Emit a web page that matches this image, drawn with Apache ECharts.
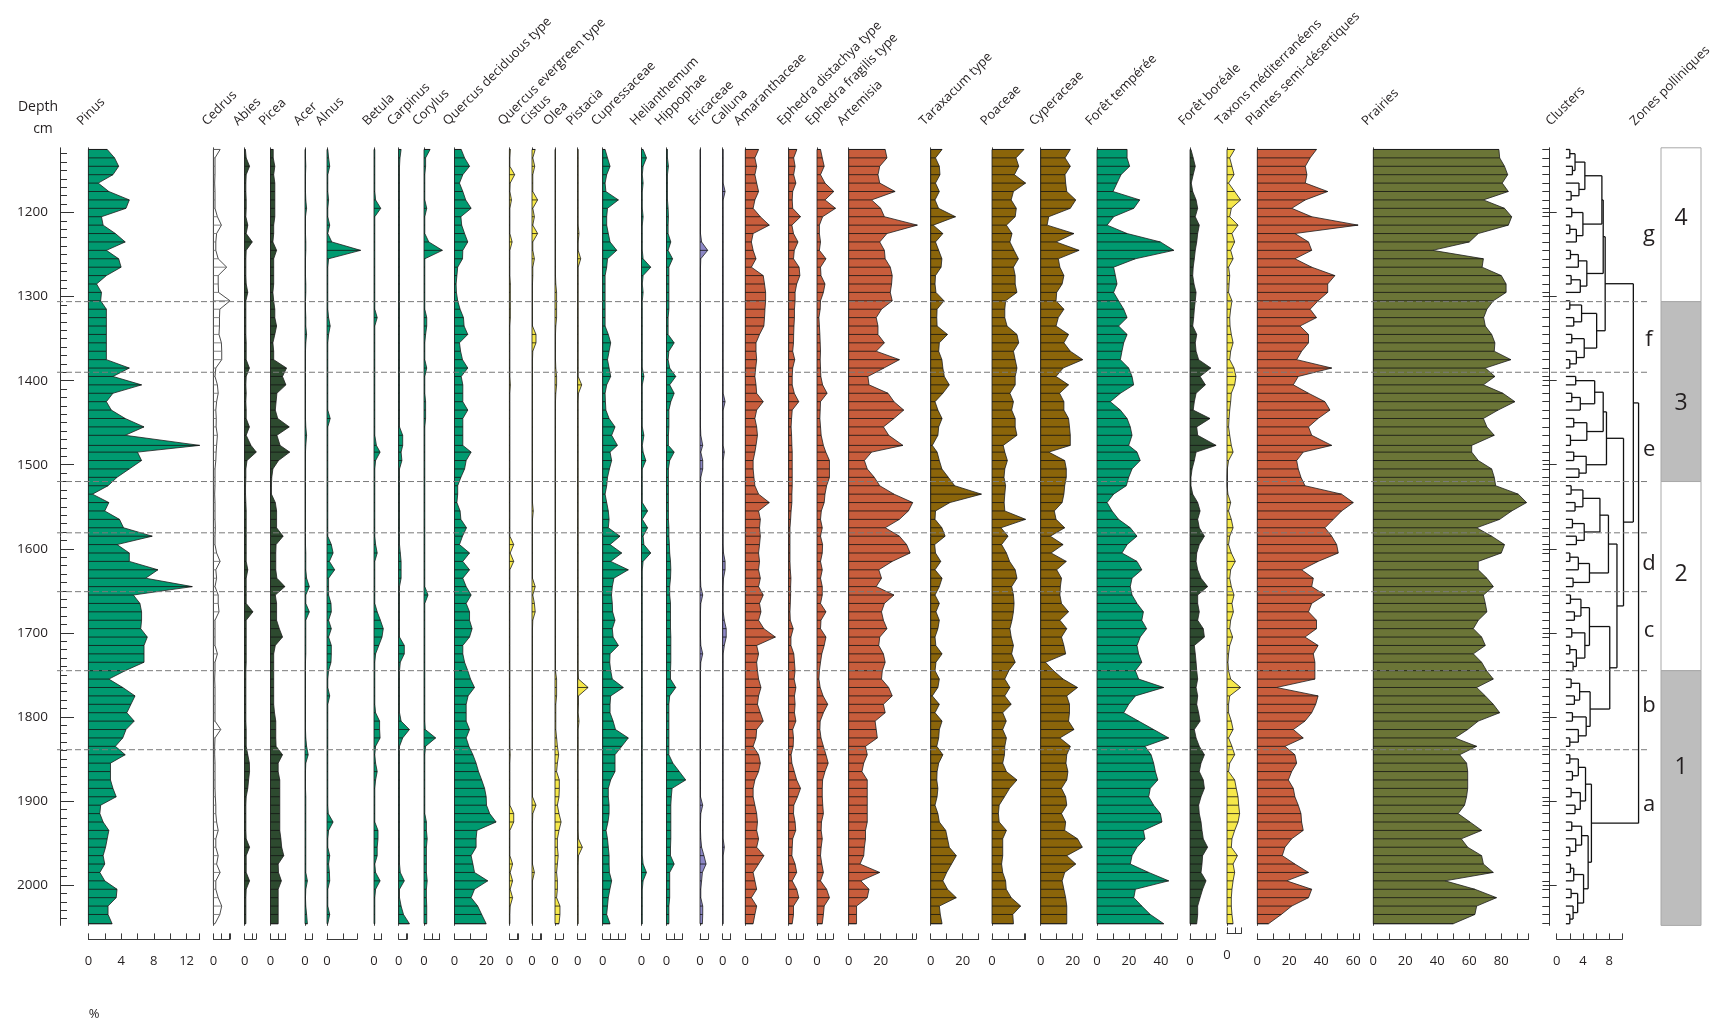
<!DOCTYPE html>
<html>
<head>
<meta charset="utf-8">
<title>Diagramme pollinique</title>
<script src="https://cdn.jsdelivr.net/npm/echarts@6/dist/echarts.min.js"></script>
<style>
  html, body { margin: 0; padding: 0; background: #fff; }
  #chart { width: 1726px; height: 1025px; }
</style>
</head>
<body>
<div id="chart"></div>
<script>
// sample depths (cm)
var depths = [1125,1135,1145,1155,1165,1175,1185,1195,1205,1215,
  1225,1235,1245,1255,1265,1275,1285,1295,1305,1315,
  1325,1335,1345,1355,1365,1375,1385,1395,1405,1415,
  1425,1435,1445,1455,1465,1477,1485,1495,1505,1515,
  1525,1535,1545,1555,1565,1575,1585,1595,1605,1615,
  1625,1635,1645,1655,1665,1675,1685,1695,1705,1715,
  1725,1735,1745,1755,1765,1775,1785,1795,1805,1815,
  1825,1835,1845,1855,1865,1875,1885,1895,1905,1915,
  1925,1935,1945,1955,1965,1975,1985,1995,2005,2015,
  2025,2035,2046];

var depthLabels = [1200,1300,1400,1500,1600,1700,1800,1900,2000];
var zoneBounds = [1306,1390,1520,1581,1651,1745,1839];

// percentages
var pinus = [2.3,3.2,3.7,3.0,1.2,2.5,5.0,4.6,1.6,1.8,
  3.3,4.5,2.2,3.7,4.0,2.2,1.0,1.6,1.5,2.2,
  2.2,2.2,2.2,2.2,2.2,2.2,5.0,3.0,6.5,3.0,
  2.2,2.8,4.5,6.8,4.5,13.6,6.0,6.5,5.0,3.5,
  2.4,0.5,2.5,2.0,3.8,4.3,7.8,3.5,5.0,5.0,
  8.5,7.0,12.7,5.5,6.3,6.5,6.5,6.4,7.2,6.8,
  6.8,6.8,4.5,2.5,4.2,5.7,5.2,4.7,5.6,4.6,
  4.2,3.3,4.5,2.7,2.7,2.7,3.0,3.4,1.5,1.4,
  1.8,2.5,2.3,2.1,1.8,2.0,1.4,2.0,3.5,3.4,
  2.4,2.4,2.9];
var cedrus = [4.2,1.0,1.0,1.0,0.8,1.0,1.0,1.0,2.5,5.0,
  2.0,1.5,1.5,3.0,8.3,3.0,3.0,3.2,10.4,4.0,
  3.8,3.8,3.5,5.0,5.2,5.2,1.5,1.0,2.5,3.0,
  2.0,1.5,1.8,1.7,2.5,2.0,1.7,1.5,1.0,1.0,
  1.0,0.8,1.0,1.0,1.0,1.2,1.0,1.0,2.0,4.2,
  1.5,2.0,1.0,3.0,3.0,3.5,1.0,1.0,1.0,1.0,
  2.5,1.0,1.0,0.8,1.0,1.0,1.0,1.0,1.0,4.6,
  1.0,0.8,0.8,1.0,1.0,1.0,1.0,1.2,1.5,1.5,
  2.0,3.0,1.5,1.5,3.0,2.0,4.2,1.5,1.5,3.0,
  5.2,4.0,1.0];
var abies = [0.5,1.0,3.1,1.0,0.8,0.8,1.0,1.0,0.8,2.0,
  1.0,4.8,1.0,0.8,0.8,0.8,1.0,2.0,0.8,0.8,
  0.8,0.8,0.8,1.0,1.0,1.0,3.0,1.0,0.8,1.0,
  0.8,1.0,1.0,3.0,1.0,4.0,7.3,1.5,0.8,0.8,
  0.6,0.6,0.8,1.0,1.0,1.0,1.0,1.0,1.0,1.0,
  2.0,1.0,1.0,1.0,1.0,5.2,1.0,1.0,1.0,1.0,
  1.0,1.0,0.8,0.8,0.8,0.8,0.8,0.8,0.8,1.0,
  1.0,1.0,2.0,3.0,3.1,2.5,2.0,1.0,0.8,0.8,
  0.8,0.8,1.0,3.1,1.0,1.0,1.0,3.1,1.0,0.8,
  0.8,0.8,0.8];
var picea = [1.7,1.7,2.7,2.0,2.7,2.7,2.7,2.7,2.7,2.0,
  2.0,1.5,3.8,2.0,2.0,2.0,2.0,1.5,2.0,2.7,
  2.7,3.8,2.7,1.5,2.0,2.0,10.0,7.5,9.6,4.0,
  3.5,3.0,4.5,11.7,4.0,6.0,12.0,5.0,1.5,0.8,
  0.6,0.6,3.0,3.8,3.8,3.8,7.9,3.5,3.3,3.3,
  3.3,4.0,9.0,3.0,3.8,3.8,3.8,5.5,7.5,3.0,
  2.0,2.0,2.0,2.0,2.0,2.0,2.0,2.5,3.3,3.3,
  3.3,3.5,7.5,4.8,4.8,5.8,5.8,5.8,5.8,5.8,
  5.8,5.8,6.5,7.0,8.3,4.8,5.0,6.8,4.8,4.8,
  4.8,4.8,4.8];
var acer = [0.3,0.3,0.5,0.3,0.3,0.3,0.5,1.0,0.3,0.3,
  0.3,0.5,0.5,0.3,0.3,0.3,0.5,0.5,0.3,0.3,
  0.5,0.5,1.0,0.5,0.3,0.3,0.3,0.3,0.3,0.3,
  0.3,0.3,0.3,0.5,1.0,0.5,0.3,0.3,0.3,0.3,
  0.3,0.3,0.3,0.3,0.3,0.3,0.3,0.3,0.5,0.5,
  0.5,1.0,2.7,0.5,0.5,2.7,0.5,0.5,0.5,0.5,
  0.5,0.3,0.3,0.3,0.3,0.3,0.3,0.3,0.3,0.3,
  0.5,1.0,2.0,0.5,0.3,0.3,0.3,0.5,0.5,0.5,
  0.5,0.5,0.5,0.5,0.5,0.5,0.5,1.5,0.5,0.3,
  0.5,1.0,1.5];
var alnus = [0.5,1.0,1.7,0.5,0.5,0.5,1.0,0.5,0.5,1.7,
  0.5,3.0,21.0,1.0,0.5,0.5,0.5,0.5,0.5,0.5,
  1.0,2.0,1.0,0.5,0.5,0.5,0.5,0.5,0.5,0.5,
  0.5,0.5,2.0,0.5,0.5,0.5,0.5,0.5,0.5,0.5,
  0.5,0.5,0.5,0.5,0.5,0.5,0.5,2.7,3.8,1.5,
  4.8,1.0,1.0,1.0,2.5,2.7,1.0,2.7,1.0,2.7,
  2.7,2.5,1.0,0.5,0.5,1.7,0.5,0.5,0.5,0.5,
  0.5,0.5,0.5,0.5,0.5,0.5,0.5,0.5,0.5,0.8,
  3.8,1.0,0.5,0.5,1.7,1.0,1.5,1.7,0.5,0.5,
  0.5,1.7,0.5];
var betula = [0.5,0.5,0.5,0.5,0.5,0.5,1.0,4.2,0.5,0.5,
  0.5,0.5,0.5,0.5,0.5,0.5,0.5,0.5,0.5,0.5,
  2.0,0.5,0.5,0.5,0.5,0.5,0.5,0.5,0.5,0.5,
  0.5,0.5,0.5,0.5,0.5,1.5,3.8,1.0,0.5,0.5,
  0.5,0.5,0.5,0.5,0.5,0.5,0.5,1.0,2.0,0.5,
  0.5,0.5,0.5,0.5,0.5,2.0,4.0,5.8,5.0,3.0,
  1.0,0.5,0.5,0.5,0.5,0.5,0.5,1.0,3.5,3.5,
  3.8,1.0,0.5,1.0,2.0,1.0,0.5,0.5,0.5,0.5,
  0.5,2.5,2.5,2.0,2.0,0.5,1.0,3.8,1.0,0.5,
  0.5,0.5,0.5];
var carpinus = [1.5,0.8,0.5,0.5,0.5,0.5,0.5,0.5,0.5,0.5,
  0.5,0.5,0.5,0.5,0.5,0.5,0.5,0.5,0.5,0.5,
  0.5,0.5,0.5,0.5,0.5,0.5,0.5,0.5,0.5,0.5,
  0.5,0.5,0.5,0.5,2.5,2.5,1.5,2.0,0.5,0.5,
  0.5,0.5,0.5,0.5,0.5,0.5,0.5,0.5,1.0,1.5,
  1.5,1.5,0.5,0.5,0.5,0.5,0.5,0.5,0.5,3.5,
  3.5,1.0,0.5,0.5,0.5,0.5,0.5,0.5,1.5,6.7,
  2.5,0.5,0.5,0.5,0.5,0.5,0.5,0.5,0.5,0.5,
  0.5,0.5,0.5,0.5,0.5,0.5,1.0,3.5,0.5,0.5,
  1.5,3.0,6.7];
var corylus = [3.8,1.0,1.0,0.5,0.5,0.5,0.5,1.7,0.5,0.5,
  0.5,3.0,11.5,0.5,0.5,0.5,0.5,0.5,0.5,0.5,
  1.7,1.7,1.0,0.5,0.5,0.5,1.7,0.5,0.5,0.5,
  1.0,1.0,1.0,0.5,0.5,0.5,0.5,0.5,0.5,0.5,
  0.5,0.5,0.5,0.5,0.5,0.5,0.5,0.5,0.5,0.5,
  0.5,0.5,0.5,2.5,0.5,0.5,0.5,0.5,0.5,0.5,
  0.5,0.5,0.5,0.5,0.5,0.5,0.5,0.5,0.5,0.8,
  7.3,1.0,0.5,0.5,0.5,0.5,0.5,0.5,0.5,0.5,
  1.5,1.5,2.0,1.5,1.5,1.5,1.5,2.0,1.5,1.5,
  1.7,1.7,1.7];
var quercusDec = [4.2,6.3,9.4,5.2,3.1,5.2,7.0,10.4,4.0,4.5,
  6.3,8.3,5.2,5.0,2.0,1.5,1.0,1.2,2.0,3.5,
  5.6,6.0,8.3,3.1,3.8,5.0,8.3,4.2,5.2,5.2,
  5.2,8.3,5.2,5.2,5.2,5.2,10.4,7.3,6.3,4.0,
  2.0,2.0,1.5,3.5,4.0,7.5,5.0,3.1,9.4,5.2,
  9.4,5.2,7.3,10.4,7.3,9.4,9.4,11.0,9.4,5.2,
  5.2,6.3,8.3,10.0,12.5,8.5,7.3,7.3,7.3,9.4,
  7.3,9.0,11.5,13.5,15.0,17.0,18.8,19.8,20.0,22.0,
  26.0,14.0,13.5,13.5,10.4,11.5,12.5,20.8,12.5,10.4,
  14.5,17.0,19.8];
var quercusEver = [0.6,0.3,0.3,3.3,0.5,0.3,1.3,0.3,0.3,0.3,
  0.3,1.7,0.3,0.3,0.3,0.3,0.6,0.6,0.6,0.6,
  0.6,0.3,0.3,0.3,0.3,0.3,0.3,0.3,0.6,0.3,
  0.3,0.3,0.3,0.3,0.3,0.3,0.3,0.3,0.3,0.3,
  0.3,0.3,0.3,0.3,0.3,0.3,0.3,2.7,0.5,2.7,
  0.3,0.3,0.3,0.3,0.3,0.3,0.3,0.3,0.3,0.3,
  0.3,0.3,0.3,0.3,0.3,0.3,0.3,0.3,0.3,0.3,
  0.3,0.3,0.5,0.3,0.3,0.3,0.3,0.3,0.3,2.7,
  2.7,0.3,0.3,0.3,0.3,2.0,0.5,2.0,0.5,2.0,
  0.5,0.3,0.3];
var cistus = [2.0,0.5,1.7,0.5,0.5,0.5,3.5,0.5,1.5,0.5,
  3.5,0.5,0.5,1.5,0.5,0.5,0.3,0.3,0.3,0.3,
  0.3,0.3,2.5,2.5,0.5,0.3,0.3,0.3,0.3,0.3,
  0.3,0.3,0.3,0.3,0.3,0.3,0.3,0.3,0.3,0.3,
  0.3,0.3,0.3,0.8,0.3,0.3,0.3,0.3,0.3,0.3,
  0.3,0.3,2.0,0.5,1.5,2.0,0.5,0.3,0.3,0.3,
  0.3,0.3,0.3,0.3,0.3,0.3,0.3,0.3,0.3,0.3,
  0.3,0.3,0.3,0.3,0.3,0.3,0.3,0.3,2.5,0.5,
  0.3,0.3,0.3,0.3,0.3,0.3,1.5,0.3,0.3,0.3,
  0.3,0.3,0.3];
var olea = [0.3,0.3,0.3,0.3,0.3,0.3,0.3,0.3,0.3,0.3,
  0.3,0.3,0.3,0.3,0.3,0.3,0.5,1.0,1.0,1.0,
  1.0,0.5,0.3,0.3,0.3,0.3,0.5,1.0,1.0,0.5,
  0.3,0.3,0.3,0.3,0.3,0.3,0.3,0.3,0.3,0.3,
  0.3,0.3,0.3,0.3,0.3,0.3,0.3,0.3,0.3,0.3,
  0.3,0.3,0.3,0.3,0.3,0.3,0.3,0.3,0.3,0.3,
  0.3,0.3,0.3,1.0,1.0,1.0,0.5,0.5,0.5,0.5,
  1.0,1.5,2.3,1.5,1.0,2.7,2.7,2.5,1.5,2.5,
  3.8,2.5,1.5,1.5,2.0,1.5,1.0,1.5,1.5,1.0,
  3.1,3.1,2.5];
var pistacia = [0.3,0.3,0.3,0.3,0.3,0.3,0.3,0.3,0.3,0.3,
  0.8,0.3,0.3,1.9,0.3,0.3,0.3,0.3,0.3,0.3,
  0.3,0.3,0.3,0.3,0.3,0.3,0.3,0.3,2.5,0.5,
  0.3,0.3,0.3,0.3,0.3,0.3,0.3,0.3,0.3,0.3,
  0.3,0.3,0.3,0.3,0.3,0.3,0.3,0.3,0.3,0.3,
  0.3,0.3,0.3,0.3,0.3,0.3,0.3,0.3,0.3,0.3,
  0.3,0.3,0.3,0.5,6.5,0.5,0.5,0.3,0.8,0.3,
  0.3,0.3,0.3,0.3,0.3,0.3,0.3,0.3,0.3,0.3,
  0.3,0.3,0.5,2.9,0.5,0.3,0.3,0.3,0.3,0.3,
  0.3,0.3,0.3];
var cupressaceae = [1.5,3.0,4.6,2.5,1.5,2.0,9.8,3.0,2.5,2.5,
  3.5,4.6,8.8,3.0,2.5,1.5,1.5,1.5,1.5,1.5,
  1.5,1.5,3.5,5.0,4.0,3.0,4.0,5.0,2.5,1.5,
  1.7,2.0,4.0,7.7,5.6,9.2,4.6,5.6,4.2,3.0,
  2.5,1.5,2.5,3.5,4.0,3.5,10.8,4.6,11.9,5.0,
  16.0,7.0,6.0,5.5,6.0,6.2,7.7,6.0,6.5,9.8,
  4.6,4.4,5.0,6.0,12.9,5.0,4.6,4.6,6.5,8.0,
  16.0,11.9,7.7,7.7,7.7,5.0,3.5,3.5,4.0,4.0,
  3.3,2.1,3.0,3.5,4.0,4.0,4.2,5.6,4.5,3.5,
  3.0,2.5,4.6];
var helianthemum = [1.0,3.1,1.0,0.5,1.0,0.5,0.5,0.5,1.0,0.5,
  0.5,0.5,0.5,1.0,5.8,1.0,0.5,1.0,0.5,0.5,
  0.5,0.5,0.5,0.5,0.5,0.5,0.5,1.5,0.5,0.5,
  0.5,0.5,0.5,0.5,1.5,0.5,1.0,2.7,0.5,0.5,
  0.5,0.5,0.5,3.8,0.5,3.8,1.0,1.5,5.8,1.0,
  0.5,0.5,0.5,0.5,0.5,0.5,0.5,0.5,0.5,0.5,
  0.5,0.5,0.5,0.5,0.5,0.5,0.5,0.5,0.5,0.5,
  0.5,0.5,0.5,0.5,0.5,0.5,0.5,0.5,0.5,0.5,
  0.5,0.5,0.5,0.5,0.5,1.0,3.1,1.0,0.5,0.5,
  0.5,0.5,0.5];
var hippophae = [0.6,0.6,1.2,0.6,0.6,0.6,0.6,1.0,1.2,1.0,
  1.0,2.7,1.0,3.8,1.5,1.5,1.5,1.5,1.5,1.5,
  1.0,1.0,1.0,4.8,1.5,1.0,2.0,5.8,2.0,4.8,
  2.7,1.5,1.5,1.5,1.2,1.2,4.8,2.0,1.2,1.2,
  1.2,1.2,1.2,1.2,1.2,1.5,1.5,1.8,2.0,2.5,
  2.7,2.5,2.0,2.0,2.5,2.5,2.5,2.5,2.7,2.7,
  2.7,2.7,2.5,2.5,5.8,2.0,1.5,1.5,1.5,1.5,
  1.5,1.5,1.5,4.0,8.0,12.0,3.5,3.0,2.7,2.7,
  2.7,2.7,2.7,2.5,2.5,4.8,2.0,2.0,2.0,2.0,
  1.5,1.5,1.5];
var ericaceae = [0.3,0.3,0.3,0.3,0.3,0.3,0.3,0.3,0.3,0.3,
  0.3,1.0,4.8,0.5,0.3,0.3,0.3,0.3,0.3,0.3,
  0.3,0.3,0.3,0.3,0.3,0.3,0.3,0.3,0.3,0.3,
  0.3,0.3,0.3,0.3,0.5,1.7,0.5,1.7,1.7,0.5,
  0.3,0.3,0.3,0.3,0.3,0.3,0.3,0.3,0.3,0.3,
  0.3,0.3,0.5,1.7,0.5,0.3,0.3,0.3,0.3,0.5,
  1.7,0.5,0.3,0.3,0.3,0.3,0.3,0.3,0.3,0.3,
  0.3,0.3,0.3,0.3,0.3,0.3,0.3,0.3,1.7,0.5,
  0.3,0.3,0.5,1.0,2.5,3.8,1.5,1.0,0.5,0.5,
  1.7,1.7,1.5];
var calluna = [0.3,0.3,0.3,0.3,0.3,1.5,0.3,0.3,0.3,0.3,
  0.3,0.3,0.3,0.3,0.3,0.3,0.3,0.3,0.3,0.3,
  0.3,0.3,0.3,0.3,0.3,0.3,0.3,0.3,0.3,0.3,
  1.5,0.3,0.3,0.3,0.3,0.3,1.0,0.3,0.3,0.3,
  0.3,0.3,0.3,0.3,0.3,0.3,0.3,0.3,0.5,1.5,
  1.5,0.5,0.3,0.3,0.3,0.3,1.0,2.2,2.2,1.0,
  0.3,0.3,0.3,0.3,0.3,0.3,0.3,0.3,0.3,0.3,
  0.3,0.3,0.3,0.3,0.3,0.3,0.3,0.3,0.3,0.3,
  0.3,0.3,0.3,1.0,0.3,0.3,0.3,0.3,0.3,0.3,
  0.3,0.3,0.3];
var amaranthaceae = [8.3,6.0,7.1,6.0,7.1,8.3,6.0,4.9,9.4,15.0,
  4.9,3.8,4.9,6.7,3.8,11.2,12.0,12.7,12.7,12.3,
  12.0,11.6,8.9,6.7,6.7,7.1,6.5,6.0,6.7,7.1,
  11.2,7.1,6.0,7.1,7.6,6.7,6.0,4.9,4.9,5.4,
  6.0,8.3,15.0,8.3,9.4,8.9,9.4,8.9,8.3,8.9,
  8.3,9.4,8.3,11.2,8.9,9.8,8.3,11.6,18.8,7.1,
  8.3,7.1,7.6,8.3,9.8,8.3,7.6,9.4,11.2,7.1,
  6.7,4.9,8.3,9.4,8.3,6.0,4.9,4.9,6.0,7.1,
  7.6,7.1,8.3,7.1,11.6,8.3,4.9,6.0,7.1,3.8,
  7.1,6.0,4.9];
var ephedraDist = [5.1,3.1,4.0,3.1,4.5,2.5,2.2,2.5,7.4,2.0,
  3.0,5.8,3.5,3.0,6.5,7.0,5.0,4.0,4.0,3.6,
  3.6,3.3,3.1,3.0,2.5,3.8,2.5,2.2,2.2,3.5,
  6.3,2.2,1.8,1.5,1.8,2.0,2.2,2.2,2.2,2.2,
  2.2,2.0,2.0,1.5,1.2,0.8,0.8,0.8,0.8,0.8,
  1.0,1.4,1.2,1.2,1.0,0.8,1.0,2.8,1.4,1.4,
  3.2,3.6,4.0,3.4,4.5,3.6,4.0,3.6,4.5,2.5,
  3.0,2.8,1.5,2.0,3.5,5.0,7.4,5.5,3.2,3.0,
  4.0,4.4,2.5,2.2,2.0,4.0,5.0,2.2,5.0,6.3,
  3.0,3.0,2.2];
var ephedraFrag = [2.2,3.3,4.5,2.2,5.0,10.5,5.0,11.6,3.5,1.5,
  1.5,2.2,1.5,5.6,2.2,2.5,5.0,4.0,2.2,2.0,
  1.2,1.5,1.8,2.0,2.2,2.0,2.2,2.4,3.5,6.3,
  2.2,2.0,1.8,2.2,2.6,4.0,5.5,7.8,7.8,7.8,
  6.0,5.0,4.5,2.7,2.2,3.3,2.2,3.5,3.3,2.2,
  3.3,2.2,3.3,3.3,2.2,5.6,2.5,2.2,5.6,4.5,
  3.0,2.2,1.5,1.2,2.0,3.8,6.7,4.0,2.0,1.8,
  2.5,4.0,5.6,7.0,5.0,3.5,3.3,3.3,3.6,4.0,
  2.8,2.6,3.3,2.6,2.2,3.0,4.0,2.2,6.0,7.8,
  4.5,4.0,3.3];
var artemisia = [22.8,23.9,19.4,18.3,19.4,29.0,14.3,20.0,22.3,42.9,
  23.9,19.4,22.3,22.8,26.0,27.2,26.8,26.0,27.2,20.5,
  17.2,18.3,18.3,22.3,17.2,31.7,22.0,12.0,12.7,24.6,
  28.3,34.4,28.3,21.7,25.0,33.9,14.3,9.8,11.6,16.0,
  19.4,28.3,40.0,37.3,31.7,22.8,31.7,36.2,38.4,27.2,
  18.8,20.5,17.2,28.3,22.3,20.5,21.7,23.9,19.4,18.8,
  21.7,22.8,21.0,20.5,25.0,27.2,21.7,22.8,16.5,17.2,
  17.9,10.5,11.6,9.4,8.3,11.6,11.6,11.6,11.6,11.6,
  11.6,10.5,10.5,9.8,9.4,7.1,19.4,7.6,12.7,11.6,
  4.9,4.9,4.9];
var taraxacum = [7.1,3.0,5.4,5.8,3.0,5.4,2.7,4.9,15.5,1.6,
  7.6,3.0,5.0,7.0,6.5,3.0,2.7,3.3,8.3,4.0,
  3.8,4.0,10.5,5.4,5.0,7.0,7.6,8.5,11.6,7.6,
  2.7,4.5,7.1,5.0,4.5,1.0,4.0,5.4,7.0,11.0,
  15.0,31.7,12.0,3.0,2.7,7.0,9.0,2.5,3.0,6.3,
  2.7,7.1,5.4,2.7,5.4,3.3,5.4,4.5,2.7,3.2,
  7.1,3.3,2.7,5.4,4.5,1.0,5.4,2.7,7.1,5.4,
  5.0,3.8,7.6,5.0,4.0,3.8,4.5,4.0,2.7,4.5,
  5.4,9.4,10.5,11.6,16.0,13.0,10.0,7.6,10.5,16.0,
  5.4,6.0,7.1];
var poaceae = [20,15,16.7,14,21,13.4,12,15.2,14.5,9,
  12.5,11.2,13.8,16.5,13.4,14.5,14.5,15.6,8.5,8,
  8,9.4,15.6,16.7,13.4,14.5,15.6,14.5,14.5,11.2,
  13.4,12.3,14.5,14.5,15.6,7.0,8.0,9.6,8.0,7.5,
  8.5,8,7.6,8,21,5.6,10,6,9,11,
  14.5,15.6,12.3,13.4,13.8,13.4,12.5,11.2,12,13.4,
  12.3,14.5,10.5,8,11.2,8,12,6.7,8.9,6.7,
  9,8,7.8,6.7,9,15.6,11,7.8,4.5,4,
  4.5,9,6.7,6.7,6.7,6,6.7,8.5,8.9,12,
  17.9,13,13.4];
var cyperaceae = [18.5,15.2,18.5,15.2,15.6,16.3,21.9,18.5,5,4,
  20.8,9.6,24,11,12,14.5,13.4,10,9.6,14.5,
  11,9.6,17.4,14.5,18.5,26.3,14,9.6,17.4,11.8,
  14.5,14.5,17.4,18,18.5,18.5,5,15,16,16,
  15,14.5,13.4,8.5,9.6,15,6,14,6.5,16,
  10,13,12.3,12,13,17.4,12,16.3,13,14.5,
  15.6,3,8,14,23,16.3,18,18,17.4,20.8,
  12,18.5,16.3,15.8,17,16.3,13,15.6,16.3,13,
  15.6,15,23,26,16.3,21.9,15,13.4,14.5,15.6,
  16.3,16.3,16.3];
var foretTemperee = [18.8,18.8,20.4,15,12.5,10,26.7,23,10.4,6.3,
  18.8,39.6,48,24,10.4,11.5,12.5,10.4,13.5,16.7,
  18.8,13.5,18.8,16.7,15.6,14.6,19.8,21.9,22.9,14.6,
  8.3,14.6,18.8,20.8,21.9,19.8,25,27,21.9,19.8,
  18.3,10.4,6.3,9.4,13.5,20.8,25,18.8,15.6,25,
  28,21.9,20.8,21.9,25,29,28,31,27,25,
  26,28,24,26,41.7,24,19.8,16.7,26,35.4,
  44.8,30,33.8,35.4,36.5,38,33.3,32.3,35.4,39.6,
  40.6,29,30,25,21.9,20.8,32.3,44.8,24,23,
  28,33.3,41.7];
var foretBoreale = [0.6,2,3.3,2,0.8,1.7,3.8,4.8,3.3,5.8,
  4.8,4.2,3.3,2.7,2,1.7,2.5,3.8,3.3,2.7,
  2.3,1.7,4.2,3.3,3.8,5.4,13,6.3,9.6,3.8,
  2.7,2,12.5,4.2,4.8,16.3,3.8,2.7,1.3,0.6,
  0.6,1.7,4.8,6.3,4.8,5.8,9,5.8,4.2,3.8,
  4.8,6.9,11,4.8,4.8,5.8,4.8,8.3,9,2.7,
  3.3,3.8,4.2,4.8,3.8,4.8,4.2,5.4,6.3,2.7,
  3.8,5.8,9,6.9,5.8,8.3,9,6.9,5.4,5.8,
  6.9,7.5,8.3,11,7.9,7.5,6.9,10,7.9,6.3,
  4.8,4.8,4.2];
var taxonsMed = [4.8,1.7,3.1,4.4,1,4.8,8.5,2.7,1.7,6.9,
  3.1,4.8,2.3,3.8,1,1.7,1.3,1,3.1,2.3,
  1.7,1.9,2.7,3.8,2.3,1.7,4.4,5.6,4.8,2.7,
  2.3,1.7,1.3,1,1.7,2.7,3.8,1,0.2,0,
  0,0.6,2.3,1,2.7,3.8,1.7,1,2.7,5.2,
  2.3,1.7,2.7,4.4,3.1,4,2.3,1.7,3.5,1.7,
  1,0.6,1,2.3,8.5,1.7,1,1,2.7,3.8,
  1,3.1,4.8,1.7,1,4.8,5.8,6.9,7.3,7.9,
  6.9,4.8,3.1,2.7,6.5,3.8,4.8,3.8,3.1,2.7,
  2.7,3.1,3.8];
var plantesSemiDes = [37,33,30,31,30,44,30,21.5,34,63,
  23.5,32,34,23.5,34,48.5,44,44,38,33,
  37,26.7,32,32,27.7,24.6,46.5,25.6,22.5,32,
  42.3,45.4,38,32,34,46.5,28.7,24.6,25.6,27.3,
  29.8,52.7,60,52.7,47.5,42.3,46.5,49.6,50.6,38,
  27.7,35,34,42.3,34,32,37,37,29.8,38,
  35,36,36,36,12,38,36.5,34,29.8,22.5,
  28.7,17.3,23.5,24.6,21.5,19.4,22.5,23.5,25.6,27.3,
  27.7,28.7,21.5,17.3,15.6,23.5,32,18.3,34,32,
  21.5,15,7];
var prairies = [78.5,79,82,84,80.6,84.4,68.8,82,86.5,84.4,
  65.6,60,37,68.8,68,80,83,83,75,71,
  69,70,74,76,75.6,86,70,76,68.8,81,
  88.5,78,68.8,71,75.6,61.5,61.5,65.6,74,75.6,
  76.5,90.6,95.8,86.5,79,64.6,74,82,80,65.6,
  65.6,71,75,68.8,70,71,65.6,62.5,67.7,70,
  62.5,67.7,70.8,75,64.6,70,75,79,65.6,59,
  51,64.6,54,58.3,59,59,59,58.3,57,53,
  60.4,67.7,55,59,67.7,68.8,75,44.8,63.5,77,
  64.6,63.5,50];

var taxa = ['Pinus','Cedrus','Abies','Picea','Acer','Alnus','Betula','Carpinus','Corylus',
  'Quercus deciduous type','Quercus evergreen type','Cistus','Olea','Pistacia','Cupressaceae',
  'Helianthemum','Hippophae','Ericaceae','Calluna','Amaranthaceae','Ephedra distachya type',
  'Ephedra fragilis type','Artemisia','Taraxacum type','Poaceae','Cyperaceae','Forêt tempérée',
  'Forêt boréale','Taxons méditerranéens','Plantes semi–désertiques','Prairies'];
var taxaValues = [pinus, cedrus, abies, picea, acer, alnus, betula, carpinus, corylus,
  quercusDec, quercusEver, cistus, olea, pistacia, cupressaceae, helianthemum, hippophae,
  ericaceae, calluna, amaranthaceae, ephedraDist, ephedraFrag, artemisia, taraxacum,
  poaceae, cyperaceae, foretTemperee, foretBoreale, taxonsMed, plantesSemiDes, prairies];

// x axis extents and labelled ticks
var axisMax = [13.6,10.3,7,9.5,4.7,18.7,4.8,5.2,9.8,20,5.6,6,5,5,14,5,10,5,5,18.7,9,10,42,30,21,26,50,15.7,9,64,97];
var axisLabelValues = [[0,4,8,12],[0],[0],[0],[0],[0],[0],[0],[0],[0,20],[0],[0],[0],[0],[0],[0],[0],[0],[0],[0],
  [0],[0],[0,20],[0,20],[0],[0,20],[0,20,40],[0],[0],[0,20,40,60],[0,20,40,60,80]];

// clustering (CONISS-like) : [height, left, right], leaves = sample index
var clusterG = [7.1,
  [6.9, [4.3, [2.8, [2.0, 0, 1], [2.4, 2, 3]], [3.4, 4, [2.2, 5, 6]]],
        [4.0, [2.3, 7, 8], [3.0, [2.0, 9, 10], 11]]],
  [4.6, [3.3, [2.1, 12, 13], 14], [3.6, [2.2, 15, 16], 17]]];
var clusterF = [6.1, [3.8, [2.0, 18, 19], [2.6, 20, 21]], [4.2, [2.3, 22, 23], [3.0, 24, [2.0, 25, 26]]]];
var clusterE = [7.6, [7.1, [5.8, [2.9, 27, 28], [3.6, [2.3, 29, 30], 31]], [4.6, [2.6, 32, 33], [2.1, 34, 35]]],
  [4.5, [2.6, 36, 37], [3.4, 38, 39]]];
var clusterD = [7.9, [6.6, [4.0, [2.2, 40, 41], [2.8, 42, 43]], [4.2, [2.4, 44, 45], [3.0, 46, 47]]],
  [5.0, [3.3, [2.0, 48, 49], 50], [2.5, 51, 52]]];
var clusterC = [5.0, [3.7, [2.1, 53, 54], [2.7, 55, 56]], [4.3, [2.3, 57, 58], [3.0, [2.0, 59, 60], [2.5, 61, 62]]]];
var clusterB = [5.1, [3.5, [2.2, 63, 64], [2.7, 65, 66]], [4.5, [2.4, 67, 68], [3.3, 69, [2.0, 70, 71]]]];
var clusterA = [5.3,
  [4.4, [3.3, [2.0, 72, 73], [2.4, 74, 75]], [3.6, [2.2, 76, 77], [2.8, 78, 79]]],
  [4.8, [3.8, [2.3, 80, 81], [2.9, 82, [2.0, 83, 84]]],
        [4.1, [2.6, [2.1, 85, 86], 87], [3.2, [2.2, 88, 89], [2.5, 90, [2.0, 91, 92]]]]]];
var clusterTree = [12.5,
  [11.7, [7.4, clusterG, clusterF],
         [10.2, clusterE, [9.2, clusterD, [8.1, clusterC, clusterB]]]],
  clusterA];
var leafHeight = 1.4;

var clusterLetters = ['g','f','e','d','c','b','a'];
var clusterLetterDepths = [1227,1351,1482,1618,1698,1787,1904];

var zoneNames = ['4','3','2','1'];
var zoneTops = [1123,1306,1520,1745];
var zoneBottoms = [1306,1520,1745,2048];
var zoneLabelDepths = [1207,1427,1631,1860];

// ---------- layout & styles ----------
var FONT = '"Open Sans", "DejaVu Sans", sans-serif';
var INK = '#231f20';
var GREEN = '#009a70', DARK = '#2d4a2f', YELLOW = '#f6e84a', PURPLE = '#8c87c6',
    RED = '#c85d3c', BROWN = '#8b650a', OLIVE = '#6b7537', WHITE = '#ffffff';
var panelFill = [GREEN, WHITE, DARK, DARK, GREEN, GREEN, GREEN, GREEN, GREEN, GREEN,
  YELLOW, YELLOW, YELLOW, YELLOW, GREEN, GREEN, GREEN, PURPLE, PURPLE, RED, RED, RED, RED,
  BROWN, BROWN, BROWN, GREEN, DARK, YELLOW, RED, OLIVE];
var panelLeft = [88.4,213.4,244.6,270.5,305,327,374,398.7,424,454.5,509.4,532,555,577.7,602.7,
  641.5,666.5,700,722.7,745.3,788.7,817,848.7,930.7,992,1040.7,1097,1190,1227,1257.3,1373.3];
var panelScale = taxa.map(function (t, i) { return i === 0 ? 8.18 : 1.6; });
var panelTick = axisMax.map(function (m, i) { return i === 0 ? 2 : (m < 15 ? 5 : 10); });
var panelAxisOffset = taxa.map(function (t, i) { return i === 28 ? 8 : 14; });

var TOP = 147.8, H = 777.6, DMIN = 1123, DMAX = 2048;
var CL_LEFT = 1556.7, CL_SCALE = 6.55, CL_MAX = 10;

var grids = [], xAxes = [], yAxes = [], series = [], graphics = [];

function hiddenX(gi) {
  return { gridIndex: gi, type: 'value', min: 0, max: 1, show: false };
}
function depthY(gi, extra) {
  var base = { gridIndex: gi, type: 'value', inverse: true, min: DMIN, max: DMAX,
    axisLine: { show: false }, axisTick: { show: false }, axisLabel: { show: false },
    splitLine: { show: false } };
  for (var k in extra) base[k] = extra[k];
  return base;
}
function bottomAxis(gi, max, tick, labels, offset) {
  return { gridIndex: gi, type: 'value', min: 0, max: max, interval: tick, position: 'bottom',
    offset: offset,
    axisLine: { show: true, onZero: false, lineStyle: { color: '#3a3a3a', width: 1 } },
    axisTick: { show: true, inside: true, length: 6, lineStyle: { color: '#3a3a3a', width: 1 } },
    axisLabel: { show: true, margin: 15, color: INK, fontSize: 13, fontFamily: FONT,
      formatter: function (v) { return labels.indexOf(v) >= 0 ? String(v) : ''; } },
    splitLine: { show: false } };
}
function rotatedLabel(text, x) {
  return { type: 'text', x: x, y: 128, rotation: Math.PI / 4,
    style: { text: text, font: '13px ' + FONT, fill: INK,
      align: 'left', verticalAlign: 'bottom', textAlign: 'left', textVerticalAlign: 'bottom' } };
}

function silhouette(vals, fill, barColor) {
  return function (params, api) {
    var k = params.dataIndex;
    var a = api.coord([0, depths[k]]);
    var b = api.coord([vals[k], depths[k]]);
    var bar = { type: 'line', shape: { x1: a[0], y1: a[1], x2: b[0], y2: b[1] },
      style: { stroke: barColor, lineWidth: 0.8 } };
    if (k > 0) return bar;
    var pts = [api.coord([0, depths[0]])];
    vals.forEach(function (v, j) { pts.push(api.coord([v, depths[j]])); });
    pts.push(api.coord([0, depths[depths.length - 1]]));
    return { type: 'group', children: [
      { type: 'polygon', shape: { points: pts }, style: { fill: fill, stroke: '#1f1f1f', lineWidth: 0.8 } },
      bar ] };
  };
}

// ---------- taxon panels ----------
taxa.forEach(function (name, i) {
  grids.push({ left: panelLeft[i], top: TOP, width: axisMax[i] * panelScale[i], height: H });
  xAxes.push(bottomAxis(i, axisMax[i], panelTick[i], axisLabelValues[i], panelAxisOffset[i]));
  yAxes.push(depthY(i, { axisLine: { show: true, onZero: false, lineStyle: { color: '#4a4a4a', width: 1 } } }));
  var vals = taxaValues[i];
  series.push({ type: 'custom', xAxisIndex: i, yAxisIndex: i, silent: true,
    data: depths.map(function (d, k) { return [vals[k], d]; }),
    renderItem: silhouette(vals, panelFill[i], panelFill[i] === WHITE ? '#666' : '#141414') });
  graphics.push(rotatedLabel(name, panelLeft[i] - 4.5));
});

// ---------- depth axis ----------
var gDepth = grids.length;
grids.push({ left: 60, top: TOP, width: 10, height: H });
xAxes.push(hiddenX(gDepth));
var minorTicks = [];
for (var d = 1130; d <= 2040; d += 10) if (d % 100 !== 0) minorTicks.push(d);
yAxes.push(depthY(gDepth, {
  position: 'left',
  axisLine: { show: true, onZero: false, lineStyle: { color: '#333', width: 1 } },
  axisTick: { show: true, inside: true, length: 14, customValues: depthLabels, lineStyle: { color: '#333' } },
  axisLabel: { show: true, customValues: depthLabels, margin: 12, color: INK, fontSize: 13.5, fontFamily: FONT,
    formatter: function (v) { return String(v); } }
}));

// ---------- clusters ----------
var gClus = grids.length;
grids.push({ left: CL_LEFT, top: TOP, width: CL_MAX * CL_SCALE, height: H });
xAxes.push(bottomAxis(gClus, CL_MAX, 2, [0, 4, 8], 14));
yAxes.push(depthY(gClus, {
  position: 'left', offset: 7.4,
  axisLine: { show: true, onZero: false, lineStyle: { color: '#333', width: 1 } },
  axisTick: { show: true, inside: false, length: 7, customValues: depths, lineStyle: { color: '#333' } }
}));
graphics.push(rotatedLabel('Clusters', CL_LEFT - 4));

var dendroSegments = [];
function collect(node) {
  if (typeof node === 'number') return { y: depths[node], h: leafHeight };
  var a = collect(node[1]), b = collect(node[2]), h = node[0];
  dendroSegments.push([a.h, a.y, h, a.y], [b.h, b.y, h, b.y], [h, a.y, h, b.y]);
  return { y: (a.y + b.y) / 2, h: h };
}
collect(clusterTree);

series.push({ type: 'custom', xAxisIndex: gClus, yAxisIndex: gClus, silent: true,
  data: [[0, DMIN]],
  renderItem: function (params, api) {
    return { type: 'group', children: dendroSegments.map(function (s) {
      var p = api.coord([s[0], s[1]]), q = api.coord([s[2], s[3]]);
      return { type: 'line', shape: { x1: p[0], y1: p[1], x2: q[0], y2: q[1] },
        style: { stroke: '#111', lineWidth: 1.3 } };
    }) };
  } });

series.push({ type: 'custom', xAxisIndex: gClus, yAxisIndex: gClus, silent: true,
  data: clusterLetterDepths.map(function (d) { return [14.1, d]; }),
  renderItem: function (params, api) {
    var p = api.coord([14.1, clusterLetterDepths[params.dataIndex]]);
    return { type: 'text', style: { text: clusterLetters[params.dataIndex], x: p[0], y: p[1],
      font: '22px ' + FONT, fill: INK, align: 'center', verticalAlign: 'middle',
      textAlign: 'center', textVerticalAlign: 'middle' } };
  } });

// ---------- pollen zones ----------
var gZone = grids.length;
grids.push({ left: 1661, top: TOP, width: 40, height: H });
xAxes.push(hiddenX(gZone));
yAxes.push(depthY(gZone, {}));
var zoneFill = [WHITE, '#bdbdbd', WHITE, '#bdbdbd'];
series.push({ type: 'custom', xAxisIndex: gZone, yAxisIndex: gZone, silent: true,
  data: zoneTops.map(function (t, i) { return [0, t]; }),
  renderItem: function (params, api) {
    var i = params.dataIndex;
    var a = api.coord([0, zoneTops[i]]), b = api.coord([1, zoneBottoms[i]]);
    var ly = api.coord([0, zoneLabelDepths[i]])[1];
    return { type: 'group', children: [
      { type: 'rect', shape: { x: a[0], y: a[1], width: b[0] - a[0], height: b[1] - a[1] },
        style: { fill: zoneFill[i], stroke: '#a8a8a8', lineWidth: 1 } },
      { type: 'text', style: { text: zoneNames[i], x: (a[0] + b[0]) / 2, y: ly,
        font: '23px ' + FONT, fill: INK, align: 'center', verticalAlign: 'middle',
        textAlign: 'center', textVerticalAlign: 'middle' } } ] };
  } });
graphics.push(rotatedLabel('Zones polliniques', 1637));

// ---------- zone boundaries (dashed) ----------
var gOver = grids.length;
grids.push({ left: 57, top: TOP, width: 1593, height: H });
xAxes.push(hiddenX(gOver));
yAxes.push(depthY(gOver, {}));
series.push({ type: 'custom', xAxisIndex: gOver, yAxisIndex: gOver, silent: true, z: 6,
  data: zoneBounds.map(function (d) { return [0, d]; }),
  renderItem: function (params, api) {
    var d = zoneBounds[params.dataIndex];
    var a = api.coord([0, d]), b = api.coord([1, d]);
    return { type: 'line', shape: { x1: a[0], y1: a[1], x2: b[0], y2: b[1] },
      style: { stroke: '#7a7a7a', lineWidth: 1, lineDash: [6, 3] } };
  } });

// extra tick axes (added last so grid indices above stay aligned)
yAxes.push(depthY(gDepth, {
  position: 'left',
  axisTick: { show: true, inside: true, length: 7, customValues: minorTicks, lineStyle: { color: '#333' } }
}));
yAxes.push(depthY(gClus, {
  position: 'left', offset: 7.4,
  axisTick: { show: true, inside: false, length: 14, customValues: depthLabels, lineStyle: { color: '#333' } }
}));

// ---------- texts ----------
graphics.push({ type: 'text', x: 38, y: 107, style: { text: 'Depth', font: '14px ' + FONT, fill: INK,
  align: 'center', verticalAlign: 'middle', textAlign: 'center', textVerticalAlign: 'middle' } });
graphics.push({ type: 'text', x: 43, y: 129, style: { text: 'cm', font: '14px ' + FONT, fill: INK,
  align: 'center', verticalAlign: 'middle', textAlign: 'center', textVerticalAlign: 'middle' } });
graphics.push({ type: 'text', x: 94, y: 1014, style: { text: '%', font: '13px ' + FONT, fill: INK,
  align: 'center', verticalAlign: 'middle', textAlign: 'center', textVerticalAlign: 'middle' } });

var chart = echarts.init(document.getElementById('chart'), null, { renderer: 'canvas' });
chart.setOption({
  backgroundColor: '#ffffff',
  animation: false,
  grid: grids,
  xAxis: xAxes,
  yAxis: yAxes,
  series: series,
  graphic: { elements: graphics }
});
</script>
</body>
</html>
